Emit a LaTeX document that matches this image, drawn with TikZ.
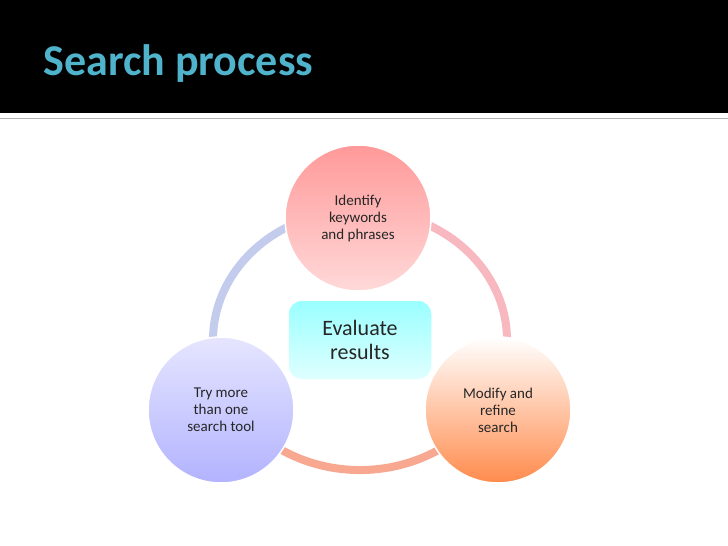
\documentclass[tikz,border=0pt]{standalone}
\usepackage{fontspec}
\setmainfont{Carlito}
\usetikzlibrary{positioning}
\definecolor{titleblue}{HTML}{4FB3CC}
\definecolor{ringblue}{HTML}{C4CCEE}
\definecolor{ringpink}{HTML}{F8B8C0}
\definecolor{ringsalmon}{HTML}{F8A890}
\tikzset{
  stage/.style = {circle, minimum size=146pt, inner sep=0pt, align=center,
                  draw=white, line width=1.5pt, text=black!85,
                  font=\fontsize{15}{17}\selectfont},
  hub/.style = {rounded corners=14pt, minimum width=144pt, minimum height=80pt,
                align=center, draw=white, line width=1.5pt, text=black!85,
                top color=cyan!40!white, bottom color=cyan!12!white,
                font=\fontsize{22}{24}\selectfont},
  ring/.style = {line width=8pt}
}
\begin{document}
\begin{tikzpicture}[x=1pt, y=-1pt]
\useasboundingbox (0,0) rectangle (728,546);
\fill[black] (0,0) rectangle (728,113);
\draw[gray!60, line width=1pt] (0,118) -- (728,118);
\node[anchor=west, text=titleblue, font=\fontsize{44}{48}\selectfont\bfseries] (title) at (40,64) {Search process};
% ring behind the stages
\draw[ring, ringblue]   (360,340) ++(170:147 and 130) arc[start angle=170, end angle=275, x radius=147, y radius=130];
\draw[ring, ringpink]   (360,340) ++(275:147 and 130) arc[start angle=275, end angle=385, x radius=147, y radius=130];
\draw[ring, ringsalmon] (360,340) ++(25:147 and 130) arc[start angle=25, end angle=170, x radius=147, y radius=130];
\node[stage, top color=red!40!white, bottom color=red!15!white] (keywords) at (358,218) {Identify\\keywords\\and phrases};
\node[stage, top color=blue!10!white, bottom color=blue!30!white] (tools) at (221,410) {Try more\\than one\\search tool};
\node[stage, top color=white, bottom color=orange!70!red!70!white] (refine) at (498,410) {Modify and\\refine\\search};
\node[hub] (evaluate) at (360,340) {Evaluate\\results};
\end{tikzpicture}
\end{document}
